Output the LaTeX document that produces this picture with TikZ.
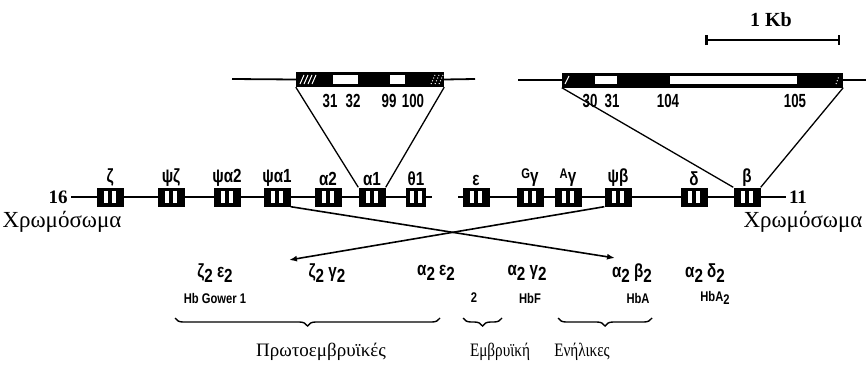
\documentclass[tikz,border=0pt]{standalone}
\usepackage{fontspec}
\setmainfont{Liberation Serif}
\newfontfamily\genefont[FakeStretch=0.8]{Liberation Sans}
\newfontfamily\numfont[FakeStretch=0.7]{Liberation Sans}
\usetikzlibrary{positioning, arrows.meta, decorations.pathreplacing}

\newcommand{\dn}[1]{\raisebox{-0.45ex}{#1}}

\begin{document}
\begin{tikzpicture}[
  x=1pt, y=-1pt,
  chr/.style={line width=1.8pt},
  link/.style={line width=1.3pt},
  cross/.style={line width=1.6pt, -{Latex[length=8pt,width=6pt]}},
  gene/.style={rectangle, fill=black, minimum width=27pt, minimum height=19pt, inner sep=0pt,
    path picture={
      \fill[white] ([xshift=-6.5pt,yshift=-6pt]path picture bounding box.center)
        rectangle ([xshift=-2.5pt,yshift=6pt]path picture bounding box.center);
      \fill[white] ([xshift=2pt,yshift=-6pt]path picture bounding box.center)
        rectangle ([xshift=6pt,yshift=6pt]path picture bounding box.center);
    }},
  exon/.style={rectangle, fill=black, minimum height=15pt, inner sep=0pt},
  glab/.style={font=\genefont\bfseries\fontsize{19}{21}\selectfont, inner sep=1pt},
  num/.style={font=\numfont\bfseries\fontsize{19}{21}\selectfont, inner sep=0pt},
  hb/.style={font=\genefont\bfseries\fontsize{19}{21}\selectfont, inner sep=0pt},
  hbname/.style={font=\genefont\bfseries\fontsize{14}{16}\selectfont, inner sep=0pt},
  stage/.style={font=\fontsize{19}{21}\selectfont, inner sep=0pt},
  brace/.style={line width=1.4pt, decorate, decoration={brace, amplitude=8pt, mirror}}
]
  \useasboundingbox (0,0) rectangle (866,367);

  % scale bar
  \node[font=\bfseries\fontsize{20}{22}\selectfont] (kb) at (771,20) {1 Kb};
  \coordinate (kbl) at (705,40);
  \coordinate (kbr) at (840,40);
  \draw[line width=2.5pt, {Bar[width=10pt]}-{Bar[width=10pt]}] (kbl) -- (kbr);

  % alpha exon structure
  \node[exon, minimum width=148pt] (ea) at (370,79.5) {};
  \coordinate (eal) at (232,79);
  \coordinate (ear) at (475,79);
  \draw[chr] (eal) -- (ea.west);
  \draw[chr] (ea.east) -- (ear);
  \fill[white] (333,75) rectangle (358,84);
  \fill[white] (390,75) rectangle (405,84);
  \foreach \d in {0,4,8,12}
    \draw[white, line width=1pt] (300+\d,84) -- (304+\d,75);
  \foreach \d in {0,4,8}
    \draw[white, line width=1pt, dotted] (431+\d,84) -- (435+\d,75);
  \foreach \x/\t in {330/31, 353/32, 389/99, 413/100}
    \node[num] at (\x,101) {\t};

  % beta exon structure
  \node[exon, minimum width=281pt] (eb) at (702.5,80) {};
  \coordinate (ebl) at (518,80);
  \coordinate (ebr) at (866,80);
  \draw[chr] (ebl) -- (eb.west);
  \draw[chr] (eb.east) -- (ebr);
  \fill[white] (595,76) rectangle (617,84);
  \fill[white] (670,76) rectangle (797,84);
  \draw[white, line width=1pt] (565,84) -- (569,76);
  \draw[white, line width=1pt, dotted] (836,84) -- (839,76);
  \foreach \x/\t in {590/30, 612/31, 668/104, 795/105}
    \node[num] at (\x,101) {\t};

  % chromosome 16
  \node[font=\bfseries\fontsize{19}{21}\selectfont] (n16) at (58,197) {16};
  \coordinate (endA) at (432,197);
  \draw[chr] (n16.east) -- (endA);
  % chromosome 11
  \node[font=\bfseries\fontsize{19}{21}\selectfont] (n11) at (798,197) {11};
  \coordinate (startB) at (458,197);
  \draw[chr] (startB) -- (n11.west);

  \foreach \x/\n/\lab in {110/z/ζ, 171/pz/ψζ, 227/pa2/ψα2, 277/pa1/ψα1, 328/a2/α2,
      372/a1/α1, 476/e/ε, 530/gg/{\raisebox{.4ex}{\fontsize{14}{16}\selectfont G}γ},
      568/ag/{\raisebox{.4ex}{\fontsize{14}{16}\selectfont A}γ}, 618/pb/ψβ, 694/d/δ, 747/b/β}
    \node[gene, label={[glab]above:\lab}] (\n) at (\x,197) {};
  \node[gene, minimum width=20pt, label={[glab]above:θ1}] (t1) at (416,197) {};

  \node[font=\fontsize{23}{25}\selectfont] (chl) at (62,222) {Χρωμόσωμα};
  \node[font=\fontsize{23}{25}\selectfont] (chr) at (803,222) {Χρωμόσωμα};

  % exon structures to genes
  \draw[link] (ea.south west) -- (a1.north west);
  \draw[link] (ea.south east) -- (a1.north east);
  \draw[link] (eb.south west) -- (b.north west);
  \draw[link] (eb.south east) -- (b.north east);

  % hemoglobins
  \node[hb] (zz) at (215,273) {ζ\dn{2} ε\dn{2}};
  \node[hb] (zg) at (327,273) {ζ\dn{2} γ\dn{2}};
  \node[hb] (ae) at (436,273) {α\dn{2} ε\dn{2}};
  \node[hb] (ag2) at (527,273) {α\dn{2} γ\dn{2}};
  \node[hb] (ab) at (632,273) {α\dn{2} β\dn{2}};
  \node[hb] (ad) at (705,273) {α\dn{2} δ\dn{2}};
  \node[hbname] (gw1) at (215,298) {Hb Gower 1};
  \node[hbname] (gw2) at (474,298) {2};
  \node[hbname] (hbf) at (530,298) {HbF};
  \node[hbname] (hba) at (638,298) {HbA};
  \node[hbname] (hba2) at (715,298) {HbA\dn{2}};

  % crossing arrows
  \coordinate (tipR) at (615,258);
  \coordinate (tipL) at (289,260);
  \draw[cross] (pa1.south east) -- (tipR);
  \draw[cross] (pb.south west) -- (tipL);

  % braces
  \draw[brace] (175,318) -- (440,318);
  \draw[brace] (463,318) -- (502,318);
  \draw[brace] (558,318) -- (652,318);
  \node[stage] (s1) at (321,352) {Πρωτοεμβρυϊκές};
  \node[stage] (s2) at (500,352) {\scalebox{0.8}[1]{Εμβρυϊκή}};
  \node[stage] (s3) at (582,352) {\scalebox{0.8}[1]{Ενήλικες}};
\end{tikzpicture}
\end{document}
